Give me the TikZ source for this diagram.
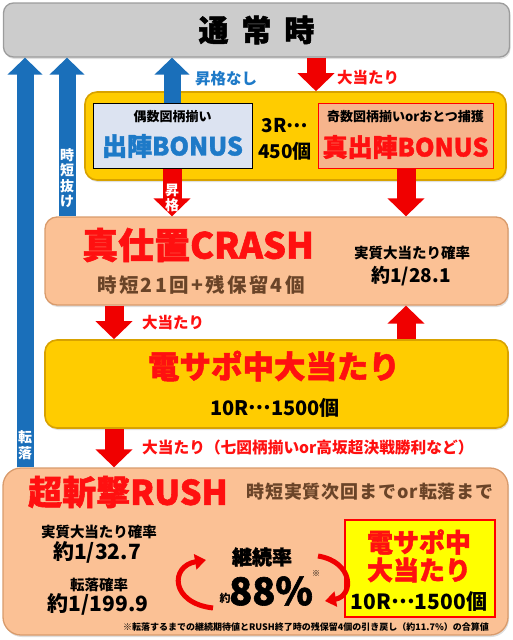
\documentclass[tikz,border=0pt]{standalone}
\usepackage{fontspec}
\setmainfont{Noto Sans CJK JP}
\newfontfamily\hv{Noto Sans CJK JP}[BoldFeatures={FakeBold=1.6}]
\usetikzlibrary{arrows.meta,calc,shadows}
\definecolor{grayF}{HTML}{CCCCCC}
\definecolor{grayD}{HTML}{9C9C9C}
\definecolor{yelF}{HTML}{FFCC00}
\definecolor{yelD}{HTML}{D8A200}
\definecolor{salF}{HTML}{FBC195}
\definecolor{salD}{HTML}{D99B6C}
\definecolor{lblue}{HTML}{DCE3F1}
\definecolor{salIn}{HTML}{F6B48C}
\definecolor{redA}{HTML}{F00000}
\definecolor{redT}{HTML}{FF1010}
\definecolor{blueA}{HTML}{1A6FBA}
\definecolor{blueT}{HTML}{1E7AC8}
\definecolor{brownT}{HTML}{6A4428}
\definecolor{yelB}{HTML}{FFFF00}
\newcommand\szf[1]{\fontsize{#1}{#1}\selectfont}
\newcommand\mydots{\raisebox{0.3em}{…}}
\begin{document}
\begin{tikzpicture}[x=1pt,y=-1pt,
  every node/.style={inner sep=0pt, font=\bfseries},
  bx/.style={draw, rounded corners=#1, line width=1.3pt, drop shadow={opacity=0.25, shadow xshift=1pt, shadow yshift=-2pt}},
  bluearr/.style={draw=blueA, line width=17pt, -{Triangle[width=34pt,length=17pt]}},
  redarr/.style={draw=redA, line width=19pt, -{Triangle[width=36pt,length=18pt]}},
  curv/.style={draw=redA, line width=5pt, -{Triangle[width=15pt,length=11pt]}},
  vlab/.style={text=white, align=center, font=\bfseries\fontsize{14}{15.5}\selectfont},
  heavy/.style={font=\hv\bfseries},
]
\useasboundingbox (0,0) rectangle (512,640);
% boxes
\node[bx=10pt, draw=grayD, fill=grayF, minimum width=506pt, minimum height=54pt, heavy] (top) at (256.5,30) {\szf{30}通\hspace{13pt}常\hspace{13pt}時};
\node[bx=12pt, draw=yelD, fill=yelF, line width=1.6pt, minimum width=421pt, minimum height=88pt] (yel) at (295.5,136) {};
\node[draw=black, line width=1pt, fill=lblue, minimum width=159pt, minimum height=65pt] (even) at (172.5,135.5) {};
\node (evenS) at (172.5,117) {\szf{13}偶数図柄揃い};
\node[text=blueT, heavy] (evenB) at (172.5,146) {\szf{25}出陣BONUS};
\node[draw=red, line width=1pt, fill=salIn, minimum width=175pt, minimum height=65pt] (odd) at (405.5,135.5) {};
\node (oddS) at (405.5,117) {\szf{13}奇数図柄揃いorおとつ捕獲};
\node[text=redT, heavy] (oddB) at (405.5,147) {\szf{25}真出陣BONUS};
\node (r3a) at (285,126) {\szf{19}3R\mydots};
\node (r3b) at (285,151) {\szf{19}450個};

\node[bx=12pt, draw=salD, fill=salF, minimum width=463pt, minimum height=88pt] (crash) at (276.5,261) {};
\node[text=redT, heavy] (crashT) at (198,245) {\szf{36}真仕置CRASH};
\node[text=brownT] (crashS) at (201,285) {\szf{19.5}\addfontfeature{LetterSpace=12}時短21回+残保留4個};
\node (crashP1) at (412,253) {\szf{14.5}実質大当たり確率};
\node (crashP2) at (411,276) {\szf{19}約1/28.1};

\node[bx=12pt, draw=yelD, fill=yelF, line width=1.6pt, minimum width=463pt, minimum height=88pt] (den) at (276.5,384) {};
\node[text=redT, heavy] (denT) at (274,366) {\szf{31.5}電サポ中大当たり};
\node (denS) at (275,408) {\szf{20}10R\mydots1500個};

\node[bx=18pt, draw=salD, fill=salF, minimum width=505pt, minimum height=167pt] (rush) at (255.5,551.5) {};
\node[text=redT, heavy] (rushT) at (128,492) {\szf{34}超斬撃RUSH};
\node[text=brownT] (rushS) at (370,492) {\szf{18}\addfontfeature{LetterSpace=5}時短実質次回までor転落まで};
\node (rp1) at (99,532) {\szf{14.5}実質大当たり確率};
\node (rp2) at (97,552) {\szf{21}約1/32.7};
\node (rp3) at (99,585) {\szf{14.5}転落確率};
\node (rp4) at (98,604) {\szf{21}約1/199.9};
\node[heavy] (keiz) at (262,557) {\szf{20}継続率};
\node[heavy] (p88) at (271,591) {\szf{38}88\%};
\node (yaku) at (225,598) {\szf{11}約};
\node (kome) at (316,574) {\szf{8}※};
\node[draw=red, line width=1.3pt, fill=yelB, minimum width=150pt, minimum height=97pt] (inbox) at (420,568.5) {};
\node[text=redT, heavy] (ib1) at (419,542) {\szf{26}電サポ中};
\node[text=redT, heavy] (ib2) at (419,570) {\szf{26}大当たり};
\node (ib3) at (419,602) {\szf{21}10R\mydots1500個};
\node (foot) at (306,627) {\szf{9}※転落するまでの継続期待値とRUSH終了時の残保留4個の引き戻し（約11.7\%）の合算値};

% arrow columns
\coordinate (xa) at (25,0);
\coordinate (xb) at (67,0);
\coordinate (xc) at (172,0);
\coordinate (xd) at (316,0);
\coordinate (xe) at (406,0);
\coordinate (xf) at (114,0);

\draw[bluearr] (rush.north -| xa) -- (top.south -| xa);
\draw[bluearr] (crash.north -| xb) -- (top.south -| xb);
\draw[bluearr] (even.north -| xc) -- (top.south -| xc);
\draw[redarr] (top.south -| xd) -- (yel.north -| xd);
\draw[redarr] (even.south -| xc) -- (crash.north -| xc);
\draw[redarr] (odd.south -| xe) -- (crash.north -| xe);
\draw[redarr] (crash.south -| xf) -- (den.north -| xf);
\draw[redarr] (den.north -| xe) -- (crash.south -| xe);
\draw[redarr] (den.south -| xf) -- (rush.north -| xf);

% arrow labels
\node[vlab] (l1) at (25,445) {転\\落};
\node[vlab] (l2) at (67,178) {時\\短\\抜\\け};
\node[vlab] (l3) at (172,198) {昇\\格};
\node[text=blueT, anchor=west] (l4) at (195,79) {\szf{15.5}昇格なし};
\node[text=redT, anchor=west] (l5) at (337,78) {\szf{15.5}大当たり};
\node[text=redT, anchor=west] (l6) at (142,323) {\szf{15.5}大当たり};
\node[text=redT, anchor=west] (l7) at (142,448) {\szf{15.7}大当たり（七図柄揃いor高坂超決戦勝利など）};

% curved arrows
\coordinate (c1s) at (213,608);
\coordinate (c1e) at (206,560);
\coordinate (c2s) at (318,556);
\coordinate (c2e) at (325,601);
\draw[curv] (c1s) .. controls (170,603) and (170,566) .. (c1e);
\draw[curv] (c2s) .. controls (354,562) and (354,596) .. (c2e);
\end{tikzpicture}
\end{document}
